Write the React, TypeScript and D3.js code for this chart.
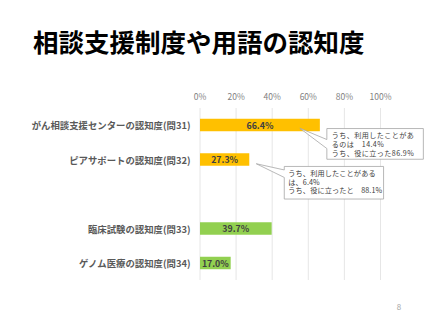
import React from 'react';
import * as d3 from 'd3';

const title = '相談支援制度や用語の認知度';
const categories = ['がん相談支援センターの認知度(問31)', 'ピアサポートの認知度(問32)', '', '臨床試験の認知度(問33)', 'ゲノム医療の認知度(問34)'];
const values: (number | null)[] = [66.4, 27.3, null, 39.7, 17.0];
const barColors = ['#FFC000', '#FFC000', '#FFC000', '#92D050', '#92D050'];
const ticks = [0, 20, 40, 60, 80, 100];
const callout1 = ['うち、利用したことがあ', 'るのは　14.4%', 'うち、役に立った86.9%'];
const callout2 = ['うち、利用したことがある', 'は、6.4%', 'うち、役に立ったと　88.1%'];
const pageNumber = '8';

const W = 427;
const H = 320;
const FONT = '"Noto Sans CJK JP", "Noto Sans", sans-serif';

export default function App() {
  const x = d3.scaleLinear().domain([0, 100]).range([200, 380.5]);
  const y = d3
    .scaleBand<string>()
    .domain(categories.map((c, i) => String(i)))
    .range([107.75, 280.25])
    .paddingInner(0.638)
    .paddingOuter(0.319);
  const bw = y.bandwidth();

  const calloutPath = (
    tip: [number, number],
    bx: number,
    by: number,
    bwid: number,
    bh: number,
    b0: number,
    b1: number
  ) =>
    `M${bx},${by} L${bx + bwid},${by} L${bx + bwid},${by + bh} L${bx},${by + bh} L${bx},${by + b1} L${tip[0]},${tip[1]} L${bx},${by + b0} Z`;

  const y0 = y('0')!;
  const y1 = y('1')!;
  const tip1: [number, number] = [x(values[0]!) - 20, y0 + bw - 3];
  const tip2: [number, number] = [x(values[1]!) + 7, y1 + bw - 2];
  const box1 = { x: tip1[0] + 27, y: tip1[1] + 0.3, w: 96.5, h: 30.7 };
  const box2 = { x: tip2[0] + 28, y: tip2[1] + 2.7, w: 99.3, h: 32.6 };

  return (
    <svg width={W} height={H} style={{ position: 'absolute', left: 0, top: 0, background: '#fff' }} fontFamily={FONT}>
      <rect width={W} height={H} fill="#fff" />
      <text x={33} y={40.5} fontSize={25.5} fontWeight="bold" fill="#000" dominantBaseline="central">
        {title}
      </text>
      {ticks.map((t) => (
        <g key={t}>
          <line x1={x(t)} x2={x(t)} y1={108} y2={280} stroke="#e3e3e3" strokeWidth={0.9} />
          <text x={x(t)} y={96} fontSize={8.5} fill="#7f7f7f" textAnchor="middle" dominantBaseline="central">
            {t}%
          </text>
        </g>
      ))}
      {categories.map((c, i) => {
        const v = values[i];
        const yy = y(String(i))!;
        return (
          <g key={i}>
            {c && (
              <text x={190.5} y={yy + bw / 2} fontSize={9.4} fontWeight="bold" fill="#595959" textAnchor="end" dominantBaseline="central">
                {c}
              </text>
            )}
            {v != null && (
              <>
                <rect x={x(0)} y={yy} width={x(v) - x(0)} height={bw} fill={barColors[i]} />
                <text x={(x(0) + x(v)) / 2} y={yy + bw / 2} fontSize={8.8} fontWeight="bold" fill="#404040" textAnchor="middle" dominantBaseline="central">
                  {v.toFixed(1)}%
                </text>
              </>
            )}
          </g>
        );
      })}
      <path d={calloutPath(tip1, box1.x, box1.y, box1.w, box1.h, 11, 20)} fill="#fff" stroke="#a6a6a6" strokeWidth={0.8} />
      {callout1.map((s, i) => (
        <text key={i} x={box1.x + 5} y={box1.y + 6.6 + i * 8.7} fontSize={7.1} letterSpacing={0.4} fill="#404040" dominantBaseline="central">
          {s}
        </text>
      ))}
      <path d={calloutPath(tip2, box2.x, box2.y, box2.w, box2.h, 3.5, 11)} fill="#fff" stroke="#a6a6a6" strokeWidth={0.8} />
      {callout2.map((s, i) => (
        <text key={i} x={box2.x + 4} y={box2.y + 6.5 + i * 8.7} fontSize={7.2} letterSpacing={0.1} fill="#404040" dominantBaseline="central">
          {s}
        </text>
      ))}
      <text x={399} y={306} fontSize={8} fill="#a6a6a6" textAnchor="middle" dominantBaseline="central">
        {pageNumber}
      </text>
    </svg>
  );
}
